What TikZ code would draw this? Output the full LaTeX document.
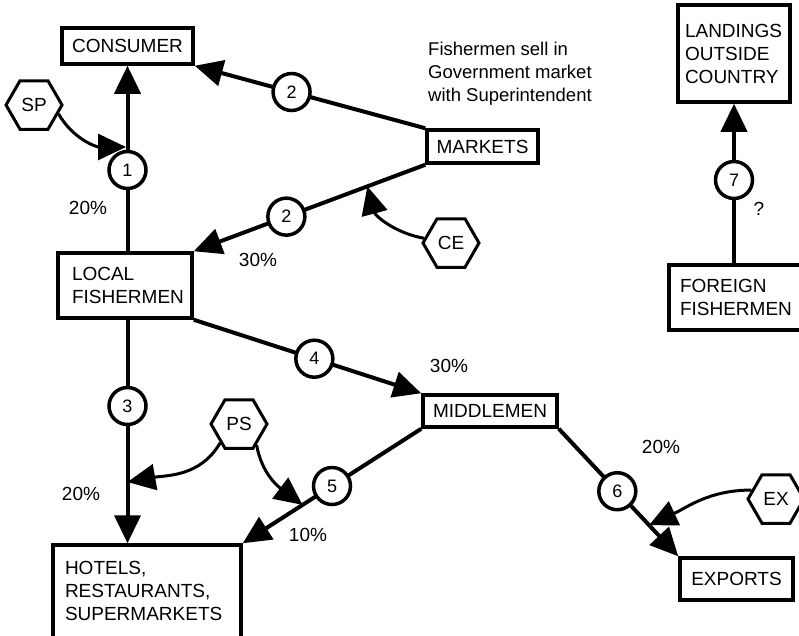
\documentclass[tikz,border=0pt]{standalone}
\usepackage{fontspec}
\setmainfont{Liberation Sans}
\usetikzlibrary{arrows.meta,shapes.geometric,calc}
\begin{document}
\begin{tikzpicture}[x=1pt,y=1pt,
  box/.style={draw,line width=3.5pt,rectangle,inner sep=0pt,font=\fontsize{19}{23}\selectfont},
  num/.style={circle,draw,line width=3.5pt,fill=white,minimum size=37pt,inner sep=0pt,font=\fontsize{18}{20}\selectfont},
  hex/.style={regular polygon,regular polygon sides=6,draw,line width=3pt,fill=white,minimum size=56pt,inner sep=0pt,font=\fontsize{19}{20}\selectfont},
  flow/.style={line width=4pt,-{Triangle[length=28pt,width=26pt]}},
  ctrl/.style={line width=3pt,-{Triangle[length=28pt,width=26pt]}},
  pct/.style={font=\fontsize{19}{20}\selectfont,inner sep=0pt},
]
\useasboundingbox (0,0) rectangle (799,-635);

% boxes
\node[box,minimum width=131pt,minimum height=36pt] (consumer) at (127.5,-46) {CONSUMER};
\node[box,minimum width=111pt,minimum height=33pt] (markets) at (482.5,-146.5) {MARKETS};
\node[box,minimum width=134pt,minimum height=32pt] (middle) at (490,-411) {MIDDLEMEN};
\node[box,minimum width=113pt,minimum height=42pt] (exports) at (736.5,-579) {EXPORTS};
\node[box,align=left,text width=106pt,inner xsep=14pt,minimum height=65pt] (local) at (125,-285.5) {LOCAL\\FISHERMEN};
\node[box,align=left,text width=98pt,inner xsep=7pt,minimum height=97pt] (landings) at (734,-53.5) {LANDINGS\\OUTSIDE\\COUNTRY};
\node[box,align=left,text width=121pt,inner xsep=11pt,minimum height=65pt] (foreign) at (740.5,-297.5) {FOREIGN\\FISHERMEN};
\node[box,align=left,text width=164pt,inner xsep=12pt,minimum height=100pt,text depth=55pt] (hotels) at (147,-595) {HOTELS,\\RESTAURANTS,\\SUPERMARKETS};

% note
\node[anchor=north west,align=left,inner sep=0pt,font=\fontsize{18.5}{23}\selectfont] (note) at (428,-41.5) {Fishermen sell in\\Government market\\with Superintendent};

% controls
\node[hex] (sp) at (34,-105) {SP};
\node[hex] (ce) at (451,-243) {CE};
\node[hex] (ps) at (239,-424) {PS};
\node[hex] (ex) at (776,-499) {EX};

% flows with numbered channels
\draw[flow] (local.north -| consumer.south) -- node[num,pos=0.438] (n1) {1} (consumer.south);
\draw[flow] (markets.north west) -- node[num,pos=0.58] (n2a) {2} (consumer.south east);
\draw[flow] (markets.south west) -- node[num,pos=0.60] (n2b) {2} (local.north east);
\draw[flow] (local.south -| consumer.south) -- node[num,pos=0.386] (n3) {3} (hotels.north -| consumer.south);
\draw[flow] (local.south east) -- node[num,pos=0.53] (n4) {4} (middle.north west);
\draw[flow] (middle.south west) -- node[num,pos=0.50] (n5) {5} (hotels.north east);
\draw[flow] (middle.south east) -- node[num,pos=0.49] (n6) {6} (exports.north west);
\draw[flow] (foreign.north -| landings.south) -- node[num,pos=0.522] (n7) {7} (landings.south);

% control points on the flows
\coordinate (spin) at (126,-147);
\coordinate (cein) at ($(markets.south west)!0.25!(local.north east)$);
\coordinate (psina) at (127.5,-482);
\coordinate (psinb) at ($(middle.south west)!0.665!(hotels.north east)$);
\coordinate (exin) at ($(middle.south east)!0.756!(exports.north west)$);

\draw[ctrl] (sp.-20) to[out=-60,in=180] (spin);
\draw[ctrl] (ce.170) to[out=170,in=-75] (cein);
\draw[ctrl] (ps.-135) to[out=-120,in=10] (psina);
\draw[ctrl] (ps.-50) to[out=-80,in=143] (psinb);
\draw[ctrl] (ex.160) to[out=180,in=25] (exin);

% shares
\node[pct] (p1) at (88,-208) {20\%};
\node[pct] (p2) at (258,-260) {30\%};
\node[pct] (p4) at (449,-366) {30\%};
\node[pct] (p3) at (81,-494) {20\%};
\node[pct] (p5) at (308,-535) {10\%};
\node[pct] (p6) at (661,-447) {20\%};
\node[pct] (p7) at (759,-209) {?};
\end{tikzpicture}
\end{document}
